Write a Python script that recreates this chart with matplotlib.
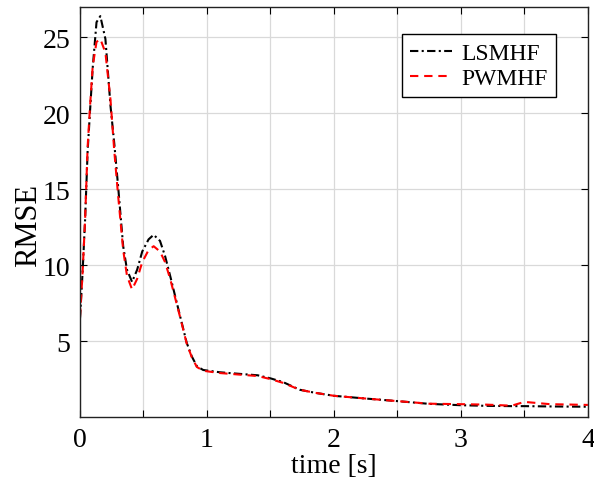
import matplotlib

matplotlib.use("Agg")
import matplotlib.pyplot as plt

time_s = [0, 0.02, 0.04, 0.06, 0.08, 0.10, 0.13, 0.16, 0.20, 0.24, 0.27, 0.30,
          0.34, 0.37, 0.41, 0.45, 0.49, 0.54, 0.58, 0.63, 0.67, 0.71, 0.76, 0.80,
          0.84, 0.88, 0.92, 0.97, 1.1, 1.25, 1.4, 1.5, 1.6, 1.73, 1.85, 2.0,
          2.25, 2.5, 2.75, 3.0, 3.2, 3.4, 3.5, 3.7, 4.0]

lsmhf = [6.5, 9.5, 13.0, 17.5, 20.3, 23.0, 26.0, 26.4, 24.9, 20.5, 18.0, 15.2,
         11.25, 9.7, 8.9, 9.7, 10.9, 11.7, 12.0, 11.6, 10.6, 9.3, 7.6, 6.25,
         4.9, 4.0, 3.35, 3.1, 2.95, 2.85, 2.75, 2.55, 2.3, 1.8, 1.6, 1.4,
         1.22, 1.05, 0.87, 0.78, 0.74, 0.72, 0.72, 0.70, 0.68]

pwmhf = [6.6, 9.5, 13.0, 17.8, 20.6, 23.1, 24.7, 24.9, 24.0, 20.9, 17.5, 14.6,
         11.0, 9.3, 8.4, 9.1, 10.2, 11.0, 11.25, 10.9, 10.2, 9.1, 7.5, 6.2,
         4.85, 3.95, 3.3, 3.05, 2.9, 2.8, 2.7, 2.5, 2.25, 1.8, 1.6, 1.4,
         1.22, 1.05, 0.88, 0.85, 0.82, 0.75, 1.0, 0.85, 0.8]

x_ticks = [0, 0.5, 1, 1.5, 2, 2.5, 3, 3.5, 4]
x_tick_labels = ["0", "", "1", "", "2", "", "3", "", "4"]
y_ticks = [5, 10, 15, 20, 25]

plt.rcParams["font.family"] = ["Liberation Serif", "DejaVu Serif"]

fig = plt.figure(figsize=(5.94, 4.85), dpi=100)
ax = fig.add_axes([0.1347, 0.138, 0.855, 0.8455])

ax.plot(time_s, lsmhf, color="black", linestyle=(0, (4, 1.6, 1, 1.6)), linewidth=1.5, label="LSMHF")
ax.plot(time_s, pwmhf, color="red", linestyle=(0, (4, 2.8)), linewidth=1.5, label="PWMHF")

ax.set_xlim(0, 4)
ax.set_ylim(0, 27)
ax.set_xticks(x_ticks)
ax.set_xticklabels(x_tick_labels)
ax.set_yticks(y_ticks)
ax.grid(True, color="#d9d9d9", linewidth=0.9)
ax.set_axisbelow(True)
ax.tick_params(direction="in", top=True, right=True, labelsize=20, length=5, width=0.8, pad=7)
for spine in ax.spines.values():
    spine.set_linewidth(1.0)
    spine.set_color("#222222")

ax.set_xlabel("time [s]", fontsize=20, labelpad=1)
ax.set_ylabel("RMSE", fontsize=22)
ax.yaxis.set_label_coords(-0.072, 0.47)

ax.legend(loc="upper right", bbox_to_anchor=(0.937, 0.934), borderaxespad=0, fontsize=17,
          frameon=True, fancybox=False, edgecolor="black", framealpha=1, handlelength=1.75,
          borderpad=0.35, labelspacing=0.15, handletextpad=0.4)

fig.savefig("out.png", dpi=100)
